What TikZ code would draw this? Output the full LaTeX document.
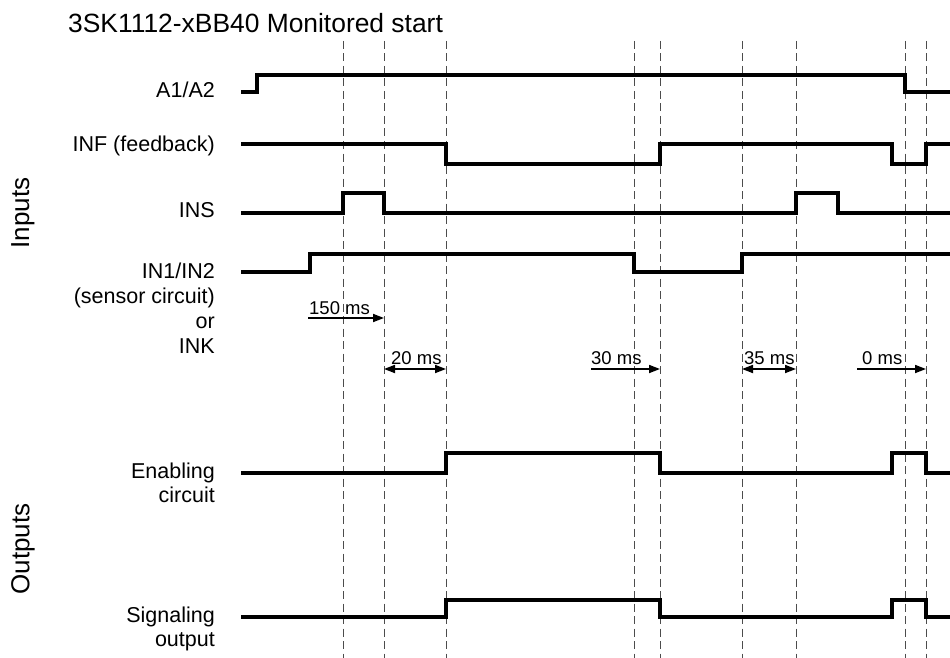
\documentclass[tikz,border=0pt]{standalone}
\usepackage{fontspec}
\setmainfont{Liberation Sans}
\usetikzlibrary{arrows.meta}
\begin{document}
\begin{tikzpicture}[x=1pt,y=-1pt,
  sig/.style={line width=3.2pt, line join=miter, line cap=butt},
  guide/.style={draw=black!70, line width=1pt, dash pattern=on 8pt off 4.5pt},
  lbl/.style={anchor=base east, inner sep=0pt, font=\fontsize{21.5}{25}\selectfont},
  mslbl/.style={anchor=base west, inner sep=0pt, font=\fontsize{18.5}{22}\selectfont},
  dur/.style={line width=1.7pt, -{Triangle[length=11pt,width=8pt]}},
  dur2/.style={line width=1.7pt, {Triangle[length=11pt,width=8pt]}-{Triangle[length=11pt,width=8pt]}},
  sec/.style={rotate=90, font=\fontsize{26}{30}\selectfont, inner sep=0pt}]
\useasboundingbox (0,0) rectangle (950,658);
\fill[white] (0,0) rectangle (950,658);

% title
\node[anchor=base west, inner sep=0pt, font=\fontsize{26.4}{30}\selectfont] (title) at (68,33) {3SK1112-xBB40 Monitored start};

% guide lines
\foreach \x [count=\i] in {343,384,446,634,660,742,796,905,926} {
  \coordinate (g\i top) at (\x,41);
  \coordinate (g\i bot) at (\x,658);
  \draw[guide] (g\i top) -- (g\i bot);
}

% signals
\draw[sig] (241,92) -- (257,92) -- (257,75) -- (905,75) -- (905,92) -- (950,92);
\draw[sig] (241,144) -- (446,144) -- (446,164) -- (660,164) -- (660,144) -- (892,144) -- (892,164) -- (926,164) -- (926,144) -- (950,144);
\draw[sig] (241,213) -- (343,213) -- (343,193) -- (384,193) -- (384,213) -- (796,213) -- (796,193) -- (838,193) -- (838,213) -- (950,213);
\draw[sig] (241,272) -- (310,272) -- (310,254) -- (634,254) -- (634,272) -- (742,272) -- (742,254) -- (950,254);
\draw[sig] (241,473) -- (446,473) -- (446,453) -- (660,453) -- (660,473) -- (892,473) -- (892,453) -- (926,453) -- (926,473) -- (950,473);
\draw[sig] (241,617) -- (446,617) -- (446,600) -- (660,600) -- (660,617) -- (892,617) -- (892,600) -- (926,600) -- (926,617) -- (950,617);

% labels
\node[lbl] (la1) at (215,98) {A1/A2};
\node[lbl] (linf) at (215,151) {INF (feedback)};
\node[lbl] (lins) at (215,217) {INS};
\node[lbl] (lin1) at (215,278) {IN1/IN2};
\node[lbl] (lin1b) at (215,303) {(sensor circuit)};
\node[lbl] (lin1c) at (215,328) {or};
\node[lbl] (lin1d) at (215,353) {INK};
\node[lbl] (len) at (215,478) {Enabling};
\node[lbl] (lenb) at (215,502) {circuit};
\node[lbl] (lsig) at (215,622) {Signaling};
\node[lbl] (lsigb) at (215,646) {output};

\node[sec] (inputs) at (23,213) {Inputs};
\node[sec] (outputs) at (23,549) {Outputs};

% durations
\coordinate (d1s) at (308,318);
\draw[dur] (d1s) -- (d1s -| g2top);
\node[mslbl] (m150) at (309,314) {150 ms};

\coordinate (d2s) at (384,369);
\draw[dur2] (d2s) -- (d2s -| g3top);
\node[mslbl] (m20) at (391,364) {20 ms};

\coordinate (d3s) at (591,369);
\draw[dur] (d3s) -- (d3s -| g5top);
\node[mslbl] (m30) at (591,364) {30 ms};

\coordinate (d4s) at (742,369);
\draw[dur2] (d4s) -- (d4s -| g7top);
\node[mslbl] (m35) at (744,364) {35 ms};

\coordinate (d5s) at (857,369);
\draw[dur] (d5s) -- (d5s -| g9top);
\node[mslbl] (m0) at (862,364) {0 ms};
\end{tikzpicture}
\end{document}
